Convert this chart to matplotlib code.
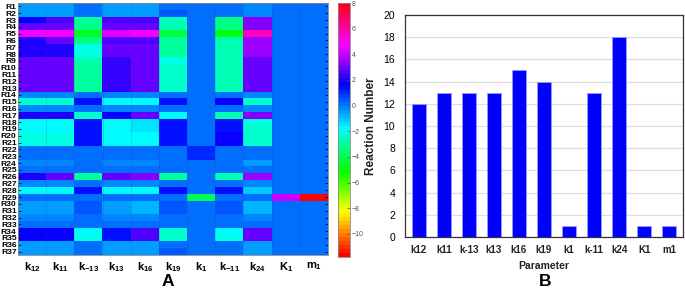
import numpy as np
import matplotlib
matplotlib.use("Agg")
import matplotlib.pyplot as plt
from matplotlib.colors import ListedColormap

plt.rcParams['font.family'] = ['Liberation Sans', 'DejaVu Sans']
plt.rcParams['mathtext.fontset'] = 'custom'
plt.rcParams['mathtext.rm'] = 'Liberation Sans'
plt.rcParams['mathtext.bf'] = 'Liberation Sans:bold'

# ---------------- data ----------------
params = ['k12', 'k11', 'k-13', 'k13', 'k16', 'k19', 'k1', 'k-11', 'k24', 'K1', 'm1']
heat_labels = [r'$\mathbf{k}_{\mathbf{12}}$', r'$\mathbf{k}_{\mathbf{11}}$', r'$\mathbf{k}_{\mathbf{-13}}$',
               r'$\mathbf{k}_{\mathbf{13}}$', r'$\mathbf{k}_{\mathbf{16}}$', r'$\mathbf{k}_{\mathbf{19}}$',
               r'$\mathbf{k}_{\mathbf{1}}$', r'$\mathbf{k}_{\mathbf{-11}}$', r'$\mathbf{k}_{\mathbf{24}}$',
               r'$\mathbf{K}_{\mathbf{1}}$', r'$\mathbf{m}_{\mathbf{1}}$']
reactions = ['R%d' % i for i in range(1, 38)]

# sensitivity per reaction (rows R1..R37), columns in params order
sens = [
    [-0.4, -0.4, 0.1, -0.4, -0.4, 0.0, 0, 0, -0.2, 0, 0],      # R1
    [-0.5, -0.5, 0.0, -0.4, -0.5, 0.4, 0, 0, -0.3, 0, 0],      # R2
    [1.8, 2.7, -3.1, 2.6, 2.7, -2.6, 0, -3.2, 3.1, 0, 0],      # R3
    [2.9, 2.9, -3.2, 2.9, 2.9, -2.8, 0, -3.2, 3.3, 0, 0],      # R4
    [4.7, 4.7, -4.6, 4.5, 4.7, -4.1, 0, -4.8, 5.8, 0, 0],      # R5
    [2.1, 2.9, -3.3, 2.6, 2.7, -3.0, 0, -2.6, 3.6, 0, 0],      # R6
    [2.1, 2.1, -2.1, 3.0, 3.0, -3.0, 0, -2.6, 3.5, 0, 0],      # R7
    [2.1, 2.1, -2.1, 3.0, 3.0, -3.0, 0, -2.6, 3.5, 0, 0],      # R8
    [2.8, 2.8, -2.8, 2.3, 3.0, -2.2, 0, -2.6, 2.9, 0, 0],      # R9
    [2.8, 2.8, -2.9, 2.3, 3.0, -2.3, 0, -2.8, 2.8, 0, 0],      # R10
    [2.8, 2.8, -2.9, 2.3, 3.0, -2.3, 0, -2.8, 2.8, 0, 0],      # R11
    [2.8, 2.8, -2.9, 2.3, 3.0, -2.3, 0, -2.8, 2.8, 0, 0],      # R12
    [2.8, 2.8, -2.9, 2.3, 3.0, -2.3, 0, -2.8, 2.8, 0, 0],      # R13
    [-0.2, -0.2, 0.0, -0.2, -0.2, 0.0, 0, 0, -0.2, 0, 0],      # R14
    [-2.3, -2.3, 1.4, -1.8, -1.7, 1.4, 0, 1.6, -2.3, 0, 0],    # R15
    [-0.2, -0.2, 0.0, -0.2, -0.2, 0.0, 0, 0, -0.2, 0, 0],      # R16
    [2.0, 2.0, -2.4, 1.7, 3.0, -1.8, 0, -2.6, 3.3, 0, 0],      # R17
    [-1.9, -1.9, 1.4, -1.7, -1.3, 1.4, 0, 1.4, -2.0, 0, 0],    # R18
    [-1.8, -1.8, 1.4, -1.6, -1.4, 1.4, 0, 1.5, -2.3, 0, 0],    # R19
    [-2.1, -2.1, 1.5, -1.9, -1.7, 1.4, 0, 1.7, -2.3, 0, 0],    # R20
    [-2.2, -2.2, 1.4, -1.9, -1.7, 1.4, 0, 1.7, -2.3, 0, 0],    # R21
    [0.0, 0.0, 0.0, 0.0, 0.0, 0.0, 0.9, 0, 0.0, 0, 0],         # R22
    [0.0, 0.0, 0.0, 0.0, 0.0, 0.0, 0.9, 0, 0.0, 0, 0],         # R23
    [-0.2, -0.2, 0.0, -0.2, -0.2, 0.0, 0, 0, -0.5, 0, 0],      # R24
    [0.0, 0.0, 0.0, 0.0, 0.0, 0.0, 0, 0, 0.0, 0, 0],           # R25
    [2.0, 3.0, -3.1, 2.9, 3.1, -3.1, 0, -2.8, 3.5, 0, 0],      # R26
    [-0.2, -0.2, 0.0, -0.2, -0.2, 0.0, 0, 0, -0.2, 0, 0],      # R27
    [-1.9, -1.9, 1.4, -1.9, -1.7, 1.4, 0, 1.4, -1.1, 0, 0],    # R28
    [0.0, 0.0, 0.0, 0.0, 0.0, 0.0, -3.9, 0, 0.0, 4.0, -11.5],  # R29
    [-0.5, -0.5, 0.3, -0.5, -0.7, 0.3, 0, 0.3, -0.7, 0, 0],    # R30
    [-0.5, -0.5, 0.3, -0.5, -0.7, 0.3, 0, 0.3, -0.7, 0, 0],    # R31
    [-0.2, -0.2, 0.0, -0.2, -0.2, 0.0, 0, 0, -0.2, 0, 0],      # R32
    [0.0, 0.0, 0.0, 0.0, 0.0, 0.0, 0, 0, 0.0, 0, 0],           # R33
    [1.7, 1.7, -1.9, 1.4, 2.6, -2.3, 0, -1.9, 3.0, 0, 0],      # R34
    [1.7, 1.7, -2.0, 1.4, 2.6, -2.3, 0, -2.0, 2.9, 0, 0],      # R35
    [-0.5, -0.5, 0.0, -0.4, -0.4, 0.2, 0, 0, -0.6, 0, 0],      # R36
    [-0.4, -0.4, 0.1, -0.4, -0.4, 0.5, 0, 0, -0.6, 0, 0],      # R37
]

reaction_count = [12, 13, 13, 13, 15, 14, 1, 13, 18, 1, 1]

# ---------------- figure ----------------
fig = plt.figure(figsize=(6.85, 2.9), dpi=100)
W, H = 685.0, 290.0

def box(l, t, r, b):
    return [l / W, 1 - b / H, (r - l) / W, (b - t) / H]

cmap = ListedColormap(plt.cm.hsv(np.linspace(0, 1, 64)))

# panel A: heatmap
ax1 = fig.add_axes(box(18, 3, 328, 255))
im = ax1.imshow(np.array(sens), aspect='auto', cmap=cmap, vmin=-11.8, vmax=8,
                interpolation='nearest')
ax1.set_xticks(np.arange(len(params)))
ax1.set_xticklabels(heat_labels, fontsize=8)
ax1.set_yticks(np.arange(len(reactions)))
ax1.set_yticklabels(reactions, fontsize=6.1, fontweight='bold')
ax1.tick_params(axis='y', length=2, width=0.5, direction='in', right=True, pad=1)
ax1.tick_params(axis='x', length=0, pad=4)
for s in ax1.spines.values():
    s.set_color('#888888')
    s.set_linewidth(0.6)
# faint cell grid
ax1.set_xticks(np.arange(-0.5, len(params), 1), minor=True)
ax1.grid(which='minor', axis='x', color='#404080', alpha=0.25, linewidth=0.5)
ax1.tick_params(which='minor', length=0)
fig.text(168 / W, 1 - 281.5 / H, 'A', fontsize=12.5, fontweight='bold', ha='center', va='center')

# colorbar
cax = fig.add_axes(box(338, 3, 350, 257))
cb = fig.colorbar(im, cax=cax, ticks=[8, 6, 4, 2, 0, -2, -4, -6, -8, -10])
cb.ax.tick_params(labelsize=5, colors='#555555', length=2, width=0.5, direction='in', pad=1.5)
cb.outline.set_edgecolor('#888888')
cb.outline.set_linewidth(0.6)

# panel B: bar chart
ax2 = fig.add_axes(box(405, 15, 683, 237))
x = np.arange(len(params))
ax2.bar(x, reaction_count, width=0.58, color='#0000ff', edgecolor='#9999ff', linewidth=0.6, zorder=3)
ax2.set_ylim(0, 20)
ax2.set_yticks(range(0, 21, 2))
ax2.set_xlim(-0.55, len(params) - 0.45)
ax2.set_xticks(x)
ax2.set_xticklabels(params, fontsize=7, fontweight='bold', color='#222222')
ax2.tick_params(axis='y', labelsize=7.5, length=0, pad=7)
ax2.tick_params(axis='x', length=0, pad=6)
ax2.yaxis.grid(True, color='#dddddd', linewidth=0.9, zorder=0)
for s in ax2.spines.values():
    s.set_color('#333333')
    s.set_linewidth(0.9)
ax2.set_xlabel('Parameter', fontsize=7.5, fontweight='bold', color='#222222', labelpad=4)
ax2.set_ylabel('Reaction Number', fontsize=8.5, fontweight='bold', color='#222222')
ax2.yaxis.set_label_coords((377 - 405) / (683 - 405), 0.5)
fig.text(545 / W, 1 - 281.5 / H, 'B', fontsize=12.5, fontweight='bold', ha='center', va='center')

fig.savefig('out.png', dpi=100)
